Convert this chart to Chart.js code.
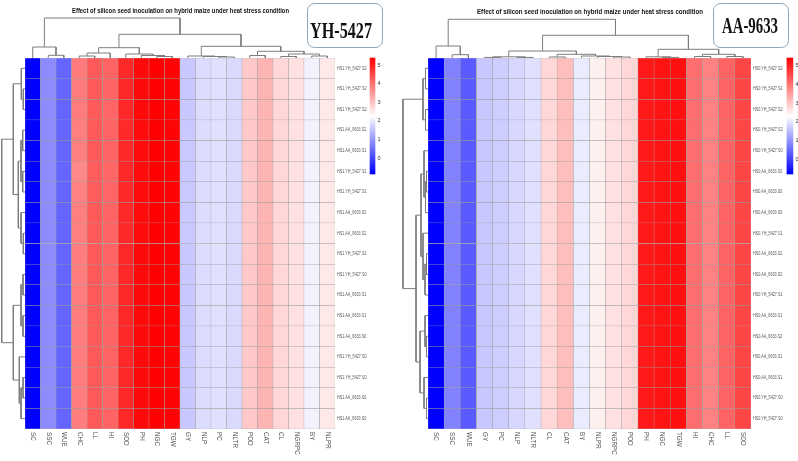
<!DOCTYPE html>
<html><head><meta charset="utf-8">
<script src="https://cdn.jsdelivr.net/npm/chart.js@4/dist/chart.umd.min.js"></script>
<style>
html,body{margin:0;padding:0;background:#fff;}
#wrap{position:relative;width:798px;height:461px;overflow:hidden;background:#fff;}
canvas{position:absolute;left:0;top:0;}
</style></head>
<body><div id="wrap">
<canvas id="cL" width="798" height="461"></canvas>
<canvas id="cR" width="798" height="461"></canvas>
</div>
<script>
// ---------------- DATA ----------------
const titleText = "Effect of silicon seed inoculation on hybrid maize under heat stress condition";
const tagL = "YH-5427";
const tagR = "AA-9633";
const colorbarTicks = [0, 1, 2, 3, 4, 5];

const colsL = ["SC","SSC","WUE","CHC","LL","HI","SOD","PH","NGC","TGW","GY","NLP","PC","NLTR","POD","CAT","CL","NGRPC","BY","NLPR"];
const rowsL = ["HS1.YH_5427.S2","HS1.YH_5427.S2","HS1.YH_5427.S2","HS1.AA_9633.S2","HS1.AA_9633.S1","HS1.YH_5427.S1",
  "HS1.YH_5427.S1","HS1.AA_9633.S2","HS1.AA_9633.S2","HS1.YH_5427.S1","HS1.YH_5427.S0","HS1.AA_9633.S1",
  "HS1.AA_9633.S1","HS1.AA_9633.S0","HS1.YH_5427.S0","HS1.YH_5427.S0","HS1.AA_9633.S0","HS1.AA_9633.S0"];
const rangeL = [-0.86, 5.38];
const valsL = [
 [-0.86,0.85,0.36,3.88,4.28,4.16,4.89,5.26,5.38,5.33,1.59,1.83,1.89,1.81,2.93,3.18,2.75,2.63,2.10,2.54],
 [-0.86,0.85,0.36,3.86,4.28,4.16,4.89,5.26,5.38,5.33,1.59,1.83,1.89,1.81,2.93,3.18,2.75,2.63,2.10,2.54],
 [-0.86,0.85,0.36,3.86,4.27,4.15,4.89,5.26,5.38,5.33,1.59,1.83,1.89,1.81,2.93,3.18,2.75,2.63,2.10,2.54],
 [-0.86,0.85,0.36,3.84,4.28,4.16,4.88,5.25,5.38,5.33,1.60,1.83,1.89,1.81,2.93,3.18,2.75,2.63,2.10,2.54],
 [-0.86,0.85,0.36,3.84,4.28,4.16,4.88,5.25,5.38,5.33,1.60,1.83,1.89,1.81,2.93,3.18,2.75,2.63,2.10,2.54],
 [-0.86,0.85,0.36,3.72,4.26,4.12,4.88,5.25,5.38,5.33,1.60,1.83,1.89,1.81,2.93,3.18,2.75,2.63,2.10,2.54],
 [-0.86,0.85,0.36,3.80,4.26,4.14,4.88,5.25,5.38,5.33,1.60,1.83,1.89,1.81,2.93,3.18,2.75,2.63,2.10,2.54],
 [-0.86,0.85,0.36,3.84,4.28,4.16,4.88,5.25,5.38,5.33,1.60,1.83,1.89,1.81,2.93,3.18,2.75,2.63,2.10,2.54],
 [-0.86,0.85,0.36,3.84,4.28,4.16,4.88,5.25,5.38,5.33,1.60,1.83,1.89,1.81,2.93,3.18,2.75,2.63,2.10,2.54],
 [-0.86,0.85,0.36,3.85,4.28,4.16,4.89,5.26,5.38,5.33,1.59,1.83,1.89,1.81,2.93,3.18,2.75,2.63,2.10,2.54],
 [-0.86,0.85,0.36,3.85,4.28,4.16,4.89,5.26,5.38,5.33,1.59,1.83,1.89,1.81,2.93,3.18,2.75,2.63,2.10,2.54],
 [-0.86,0.85,0.36,3.85,4.28,4.16,4.89,5.26,5.38,5.33,1.59,1.83,1.89,1.81,2.93,3.18,2.75,2.63,2.10,2.54],
 [-0.86,0.85,0.36,3.85,4.28,4.16,4.89,5.26,5.38,5.33,1.59,1.83,1.89,1.81,2.93,3.18,2.75,2.63,2.10,2.54],
 [-0.86,0.85,0.36,3.85,4.28,4.16,4.89,5.26,5.38,5.33,1.59,1.83,1.89,1.81,2.93,3.18,2.75,2.63,2.10,2.54],
 [-0.86,0.85,0.36,3.85,4.28,4.16,4.89,5.26,5.38,5.33,1.59,1.83,1.89,1.81,2.93,3.18,2.75,2.63,2.10,2.54],
 [-0.86,0.85,0.36,3.85,4.28,4.16,4.89,5.26,5.38,5.33,1.59,1.83,1.89,1.81,2.93,3.18,2.75,2.63,2.10,2.54],
 [-0.86,0.85,0.36,3.85,4.28,4.16,4.89,5.26,5.38,5.33,1.59,1.83,1.89,1.81,2.93,3.18,2.75,2.63,2.10,2.54],
 [-0.86,0.85,0.36,3.85,4.28,4.16,4.89,5.26,5.38,5.33,1.59,1.83,1.89,1.81,2.93,3.18,2.75,2.63,2.10,2.54]
];
// dendrograms: [mergeDistance, left, right]; leaves are column / row indices
const colTreeL = [40,
  [11, 0, [2.7, 1, 2]],
  [23.7,
    [10.3, [5, [2, 3, 4], 5], [4, 6, [2.5, 7, [1.5, 8, 9]]]],
    [11.7, [2, 10, [1.5, 11, [1, 12, 13]]], [6.7, [2.5, 14, 15], [4, [1.5, 16, 17], [2, 18, 19]]]]
  ]
];
const rowTreeL = [23.3,
  [11.7, [3.7, 0, [1.7, 1, 2]], [6.7, [4, [2.3, 3, 4], [2.3, 5, 6]], [4, 7, [1.7, 8, 9]]]],
  [11.7, [4, [2, 10, 11], [2, 12, 13]], [5.7, 14, [4, [2, 15, 16], 17]]]
];

const colsR = ["SC","SSC","WUE","GY","PC","NLP","NLTR","CL","CAT","BY","NLPR","NGRPC","POD","PH","NGC","TGW","HI","CHC","LL","SOD"];
const rowsR = ["HS0.YH_5427.S2","HS0.YH_5427.S1","HS0.YH_5427.S2","HS0.YH_5427.S2","HS0.YH_5427.S0","HS0.AA_9633.S0",
  "HS0.AA_9633.S0","HS0.AA_9633.S0","HS0.YH_5427.S1","HS0.AA_9633.S2","HS0.AA_9633.S2","HS0.YH_5427.S1",
  "HS0.AA_9633.S1","HS0.AA_9633.S2","HS0.AA_9633.S1","HS0.AA_9633.S1","HS0.YH_5427.S0","HS0.YH_5427.S0"];
const rangeR = [-0.74, 5.37];
const valsR = [
 [-0.74,0.82,0.34,1.66,1.72,1.84,1.96,2.79,3.09,2.08,2.49,2.67,2.79,5.07,5.13,5.19,4.05,3.81,4.17,4.53],
 [-0.74,0.82,0.34,1.66,1.72,1.84,1.96,2.79,3.09,2.08,2.49,2.67,2.79,5.07,5.13,5.19,4.05,3.81,4.17,4.53],
 [-0.74,0.82,0.34,1.66,1.72,1.84,1.96,2.79,3.09,2.08,2.49,2.67,2.79,5.07,5.13,5.19,4.05,3.81,4.17,4.53],
 [-0.74,0.82,0.34,1.66,1.72,1.84,1.96,2.79,3.09,2.08,2.49,2.67,2.79,5.07,5.13,5.19,4.05,3.81,4.17,4.53],
 [-0.74,0.82,0.34,1.66,1.72,1.84,1.96,2.79,3.09,2.08,2.49,2.67,2.79,5.07,5.13,5.19,4.05,3.81,4.17,4.53],
 [-0.74,0.82,0.34,1.66,1.72,1.84,1.96,2.79,3.09,2.08,2.49,2.67,2.79,5.07,5.13,5.19,4.05,3.81,4.17,4.53],
 [-0.74,0.82,0.34,1.66,1.72,1.84,1.96,2.79,3.09,2.08,2.49,2.67,2.79,5.07,5.13,5.19,4.05,3.81,4.17,4.53],
 [-0.74,0.82,0.34,1.66,1.72,1.84,1.96,2.79,3.09,2.08,2.49,2.67,2.79,5.07,5.13,5.19,4.05,3.81,4.17,4.53],
 [-0.74,0.82,0.34,1.66,1.72,1.84,1.96,2.79,3.09,2.08,2.49,2.67,2.79,5.07,5.13,5.19,4.05,3.81,4.17,4.53],
 [-0.74,0.82,0.34,1.66,1.72,1.84,1.96,2.79,3.09,2.08,2.49,2.67,2.79,5.07,5.13,5.19,4.05,3.81,4.17,4.53],
 [-0.74,0.82,0.34,1.66,1.72,1.84,1.96,2.79,3.09,2.08,2.49,2.67,2.79,5.07,5.13,5.19,4.05,3.81,4.17,4.53],
 [-0.74,0.82,0.34,1.66,1.72,1.84,1.96,2.79,3.09,2.08,2.49,2.67,2.79,5.07,5.13,5.19,4.05,3.81,4.17,4.53],
 [-0.74,0.82,0.34,1.66,1.72,1.84,1.96,2.79,3.09,2.08,2.49,2.67,2.79,5.07,5.13,5.19,4.05,3.81,4.17,4.53],
 [-0.74,0.82,0.34,1.66,1.72,1.84,1.96,2.79,3.09,2.08,2.49,2.67,2.79,5.07,5.13,5.19,4.05,3.81,4.17,4.53],
 [-0.74,0.82,0.34,1.66,1.72,1.84,1.96,2.79,3.09,2.08,2.49,2.67,2.79,5.07,5.13,5.19,4.05,3.81,4.17,4.53],
 [-0.74,0.82,0.34,1.66,1.72,1.84,1.96,2.79,3.09,2.08,2.49,2.67,2.79,5.07,5.13,5.19,4.05,3.81,4.17,4.53],
 [-0.74,0.82,0.34,1.66,1.72,1.84,1.96,2.79,3.09,2.08,2.49,2.67,2.79,5.07,5.13,5.19,4.05,3.81,4.17,4.53],
 [-0.74,0.82,0.34,1.66,1.72,1.84,1.96,2.79,3.09,2.08,2.49,2.67,2.79,5.07,5.13,5.19,4.05,3.81,4.17,4.53]
];
const colTreeR = [38.7,
  [12, 0, [3.3, 1, 2]],
  [22.7,
    [7, [1.2, [0.6, 3, 4], [0.6, 5, 6]], [3.7, [1, 7, 8], [2, 9, [1.5, 10, [1, 11, 12]]]]],
    [8.7, [1.2, 13, [0.6, 14, 15]], [3.7, [1.5, 16, 17], [1.5, 18, 19]]]
  ]
];
const rowTreeR = [25,
  [5, [2.5, 0, 1], [2.5, 2, 3]],
  [12, [7, [4, 4, [2.5, [1.5, 5, 6], 7]], [5, 8, [3, [1.5, 9, 10], 11]]], [8, [3, 12, [1.5, 13, 14]], [4, 15, [1.5, 16, 17]]]]
];

// ---------------- LAYOUT (pixels) ----------------
const panels = [
  { id: "cL", cols: colsL, rows: rowsL, vals: valsL, range: rangeL, colTree: colTreeL, rowTree: rowTreeL, tag: tagL,
    area: {left: 25, top: 58, right: 335, bottom: 429}, colDendroPx: 40, rowDendroPx: 23.3,
    cbX: 22.42, cbFrac: 116/371, cbW: 5, rowLabelW: 29.5,
    title: {cx: 180.5, base: 12.8, w: 217}, box: {x: 307.5, y: 3.5, w: 75, h: 44}, tagText: {cx: 341, base: 38, w: 62} },
  { id: "cR", cols: colsR, rows: rowsR, vals: valsR, range: rangeR, colTree: colTreeR, rowTree: rowTreeR, tag: tagR,
    area: {left: 428, top: 58, right: 751, bottom: 429}, colDendroPx: 38.7, rowDendroPx: 25,
    cbX: 22.41, cbFrac: 116/371, cbW: 6, rowLabelW: 29.5,
    title: {cx: 590, base: 13.8, w: 226}, box: {x: 713.5, y: 3.5, w: 75, h: 44}, tagText: {cx: 750, base: 33, w: 56} }
];

function colorFor(v, range) {
  const lo = range[0], hi = range[1], mid = (lo + hi) / 2;
  if (v <= mid) {
    const c = Math.round(255 * Math.max(0, Math.min(1, (v - lo) / (mid - lo))));
    return "rgb(" + c + "," + c + ",255)";
  }
  const c = Math.round(255 * Math.max(0, Math.min(1, (hi - v) / (hi - mid))));
  return "rgb(255," + c + "," + c + ")";
}

function dendro(tree, horizontal) {
  const pts = [];
  function walk(node) {
    if (typeof node === "number") return {p: node + 0.5, h: 0};
    const A = walk(node[1]), B = walk(node[2]), h = node[0];
    [[A.p, A.h], [A.p, h], [B.p, h], [B.p, B.h]].forEach(function (q) {
      pts.push(horizontal ? {x: q[0], y: q[1]} : {x: q[1], y: q[0]});
    });
    pts.push({x: null, y: null});
    return {p: (A.p + B.p) / 2, h: h};
  }
  const r = walk(tree);
  return {pts: pts, root: r.h};
}

function roundRect(ctx, x, y, w, h, r) {
  ctx.beginPath();
  ctx.moveTo(x + r, y);
  ctx.arcTo(x + w, y, x + w, y + h, r);
  ctx.arcTo(x + w, y + h, x, y + h, r);
  ctx.arcTo(x, y + h, x, y, r);
  ctx.arcTo(x, y, x + w, y, r);
  ctx.closePath();
}

function fitText(ctx, text, cx, base, w, font) {
  ctx.save();
  ctx.font = font;
  const m = ctx.measureText(text).width;
  ctx.translate(cx, base);
  ctx.scale(w / m, 1);
  ctx.textAlign = "center";
  ctx.textBaseline = "alphabetic";
  ctx.fillText(text, 0, 0);
  ctx.restore();
}

function makeChart(P) {
  const nC = P.cols.length, nR = P.rows.length;
  const a = P.area;
  const W = 798, H = 461;
  const datasets = [];
  P.rows.forEach(function (rname, r) {
    datasets.push({
      type: "bar", label: rname, xAxisID: "x", yAxisID: "y",
      data: P.cols.map(function (c, j) { return {x: j + 0.5, y: [r, r + 1]}; }),
      backgroundColor: P.cols.map(function (c, j) { return colorFor(P.vals[r][j], P.range); }),
      borderColor: "rgba(150,150,150,0.85)", borderWidth: 0.5, borderSkipped: false,
      grouped: false, barPercentage: 1, categoryPercentage: 1
    });
  });
  datasets.push({
    type: "bar", label: "scale", xAxisID: "x", yAxisID: "yc", clip: false,
    data: [{x: P.cbX, y: [P.range[0], P.range[1]]}],
    backgroundColor: function (ctx) {
      const ch = ctx.chart, s = ch.scales.yc;
      if (!s || !ch.chartArea) return "#fff";
      const g = ch.ctx.createLinearGradient(0, s.getPixelForValue(P.range[1]), 0, s.getPixelForValue(P.range[0]));
      g.addColorStop(0, "rgb(255,0,0)"); g.addColorStop(0.5, "rgb(255,255,255)"); g.addColorStop(1, "rgb(0,0,255)");
      return g;
    },
    borderWidth: 0, grouped: false, barPercentage: 1, categoryPercentage: 1, maxBarThickness: P.cbW
  });
  const cd = dendro(P.colTree, true), rd = dendro(P.rowTree, false);
  datasets.push({ type: "line", label: "colDendro", xAxisID: "x", yAxisID: "yd", data: cd.pts,
    borderColor: "#7d7d7d", borderWidth: 1, pointRadius: 0, spanGaps: false, tension: 0, clip: false });
  datasets.push({ type: "line", label: "rowDendro", xAxisID: "xd", yAxisID: "y", data: rd.pts,
    borderColor: "#7d7d7d", borderWidth: 1, pointRadius: 0, spanGaps: false, tension: 0, clip: false });

  const areaH = a.bottom - a.top, areaW = a.right - a.left;
  const hidden = {display: false, offset: false, ticks: {display: false}, grid: {display: false, offset: false}, bounds: "data"};
  const textPlugin = {
    id: "labels",
    afterDraw: function (chart) {
      const ctx = chart.ctx, sx = chart.scales.x, sy = chart.scales.y, sc = chart.scales.yc;
      ctx.save();
      // row labels, condensed to the reference width
      ctx.fillStyle = "#555";
      ctx.font = "4.8px 'Liberation Sans', Arial, sans-serif";
      ctx.textAlign = "left"; ctx.textBaseline = "middle";
      const maxW = Math.max.apply(null, P.rows.map(function (l) { return ctx.measureText(l).width; }));
      const k = P.rowLabelW / maxW;
      P.rows.forEach(function (lab, r) {
        ctx.save();
        ctx.translate(chart.chartArea.right + 2, sy.getPixelForValue(r + 0.5));
        ctx.scale(k, 1);
        ctx.fillText(lab, 0, 0);
        ctx.restore();
      });
      // column labels, rotated clockwise
      ctx.font = "6.3px 'Liberation Sans', Arial, sans-serif";
      ctx.fillStyle = "#555";
      P.cols.forEach(function (lab, j) {
        ctx.save();
        ctx.translate(sx.getPixelForValue(j + 0.5), chart.chartArea.bottom + 3);
        ctx.rotate(Math.PI / 2);
        ctx.textAlign = "left"; ctx.textBaseline = "middle";
        ctx.fillText(lab, 0, 0);
        ctx.restore();
      });
      // colour-bar ticks
      ctx.font = "5.5px 'Liberation Sans', Arial, sans-serif";
      ctx.fillStyle = "#333";
      ctx.textAlign = "left"; ctx.textBaseline = "middle";
      const xr = sx.getPixelForValue(P.cbX) + P.cbW / 2 + 2.5;
      colorbarTicks.forEach(function (t) { ctx.fillText(String(t), xr, sc.getPixelForValue(t)); });
      // title and tag
      ctx.fillStyle = "#111";
      fitText(ctx, titleText, P.title.cx, P.title.base, P.title.w, "bold 7px 'Liberation Sans Narrow', 'Liberation Sans', Arial, sans-serif");
      roundRect(ctx, P.box.x, P.box.y, P.box.w, P.box.h, 7);
      ctx.fillStyle = "#fff"; ctx.fill();
      ctx.lineWidth = 1; ctx.strokeStyle = "#8ea6b6"; ctx.stroke();
      ctx.fillStyle = "#111";
      fitText(ctx, P.tag, P.tagText.cx, P.tagText.base, P.tagText.w, "bold 24px 'Liberation Serif', 'Times New Roman', serif");
      ctx.restore();
    }
  };

  return new Chart(document.getElementById(P.id), {
    type: "bar",
    data: {datasets: datasets},
    options: {
      responsive: false, animation: false, events: [],
      layout: {padding: {left: a.left, top: a.top, right: W - a.right, bottom: H - a.bottom}},
      plugins: {legend: {display: false}, tooltip: {enabled: false}, title: {display: false}},
      scales: {
        x: Object.assign({}, hidden, {type: "linear", axis: "x", position: "bottom",
          afterDataLimits: function (s) { s.min = 0; s.max = nC; }}),
        y: Object.assign({}, hidden, {type: "linear", axis: "y", position: "left", reverse: true,
          afterDataLimits: function (s) { s.min = 0; s.max = nR; }}),
        yd: Object.assign({}, hidden, {type: "linear", axis: "y", position: "left",
          afterDataLimits: function (s) { s.max = 0; s.min = -cd.root * areaH / P.colDendroPx; }}),
        xd: Object.assign({}, hidden, {type: "linear", axis: "x", position: "bottom", reverse: true,
          afterDataLimits: function (s) { s.max = 0; s.min = -rd.root * areaW / P.rowDendroPx; }}),
        yc: Object.assign({}, hidden, {type: "linear", axis: "y", position: "right",
          afterDataLimits: function (s) { s.max = P.range[1]; s.min = P.range[1] - (P.range[1] - P.range[0]) / P.cbFrac; }})
      }
    },
    plugins: [textPlugin]
  });
}

panels.forEach(makeChart);
</script>
</body></html>
